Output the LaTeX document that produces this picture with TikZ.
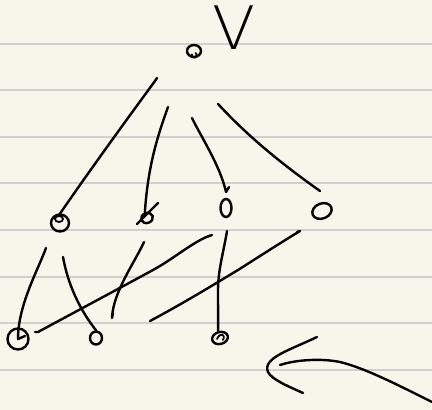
\documentclass[tikz,border=0pt]{standalone}
\usepackage{fontspec}
\usetikzlibrary{shapes.geometric,calc}
\newfontfamily\vfont{DejaVu Sans ExtraLight}
\definecolor{paper}{RGB}{248,246,235}
\definecolor{rulegray}{RGB}{208,208,206}
\begin{document}
\begin{tikzpicture}[x=1pt,y=-1pt,
  ink/.style={line width=2.4pt,line cap=round,line join=round,black},
  vtx/.style={ellipse,draw,line width=2.4pt,inner sep=0pt},
  ruleline/.style={line width=2pt,draw=rulegray}]
\fill[paper] (0,0) rectangle (432,410);
\useasboundingbox (0,0) rectangle (432,410);
\foreach \yy in {43.5,90,136.5,183,229.5,276.5,323,369.5}
  \draw[ruleline] (0,\yy) -- (432,\yy);

% label
\node[font=\vfont\fontsize{60}{60}\selectfont,inner sep=0pt,anchor=base,xscale=1.05] (v) at (234.5,49.5) {V};

% nodes
\node[vtx,minimum width=14pt,minimum height=12pt] (r) at (194,51) {};
\draw[ink,line width=1.8pt] (195.5,53) arc[start angle=-60,end angle=200,radius=2.5];

\node[vtx,minimum width=18pt,minimum height=17pt] (n1) at (60,223) {};
\node[vtx,minimum width=8pt,minimum height=6pt,line width=1.8pt] (n1in) at (59,219) {};
\node[vtx,minimum width=12pt,minimum height=10pt,rotate=20] (n2) at (147,218) {};
\node[vtx,minimum width=11pt,minimum height=18pt] (n3) at (226,208) {};
\node[vtx,minimum width=20pt,minimum height=15pt,rotate=22] (n4) at (322,211) {};

\node[vtx,minimum width=21pt,minimum height=21pt] (l1) at (18,339) {};
\node[vtx,minimum width=12pt,minimum height=13pt] (l2) at (96,338) {};
\node[vtx,minimum width=16pt,minimum height=12pt,rotate=15] (l3) at (220,338) {};
\draw[ink,line width=1.8pt] (217,339) .. controls (220,332) and (226,334) .. (223,340);

% free ends of connectors
\coordinate (e1a) at (157,78);
\coordinate (e2a) at (168,107);
\coordinate (e3a) at (192,118);
\coordinate (e3b) at (226,192);
\coordinate (e4a) at (218,104);
\coordinate (e4b) at (320,191);
\coordinate (e5a) at (46,248);
\coordinate (e6a) at (63,257);
\coordinate (e7a) at (144,242);
\coordinate (e7b) at (112,318);
\coordinate (e8a) at (35,332);
\coordinate (e8b) at (212,235);
\coordinate (e9a) at (227,231);
\coordinate (e10a) at (150,321);
\coordinate (e10b) at (300,231);

% upper connectors
\draw[ink] (e1a) -- (155,81) .. controls (130,115) and (90,170) .. (n1in.north);
\draw[ink] (e2a) .. controls (158,135) and (148,165) .. (n2.north);
\draw[ink] (158,203) -- (137,224);
\draw[ink] (e3a) .. controls (200,135) and (220,165) .. (e3b) -- (229,187);
\draw[ink] (e4a) .. controls (235,122) and (262,150) .. (e4b);

% lower connectors
\draw[ink] (e5a) .. controls (38,270) and (18,305) .. (l1.center) -- (25,336);
\draw[ink] (e6a) .. controls (68,285) and (80,310) .. (l2.north);
\draw[ink] (e7a) .. controls (135,262) and (113,292) .. (e7b) -- (113,313);
\draw[ink] (e8a) -- (38,332) .. controls (75,312) and (120,288) .. (153,270)
           .. controls (175,258) and (195,240) .. (e8b) -- (204,238);
\draw[ink] (e9a) .. controls (224,250) and (218,270) .. (218,290) -- (l3.north);
\draw[ink] (e10a) .. controls (180,305) and (210,287) .. (238,270)
           .. controls (260,256) and (285,240) .. (e10b) -- (297,232);

% arrow
\coordinate (at1) at (432,402);
\coordinate (at2) at (280,365);
\coordinate (ah1) at (317,337);
\coordinate (ah2) at (303,393);
\draw[ink] (at1) .. controls (400,386) and (365,368) .. (340,362)
           .. controls (320,358) and (295,360) .. (at2);
\draw[ink] (ah1) .. controls (290,350) and (262,358) .. (268,372)
           .. controls (272,380) and (290,387) .. (ah2);
\end{tikzpicture}
\end{document}
